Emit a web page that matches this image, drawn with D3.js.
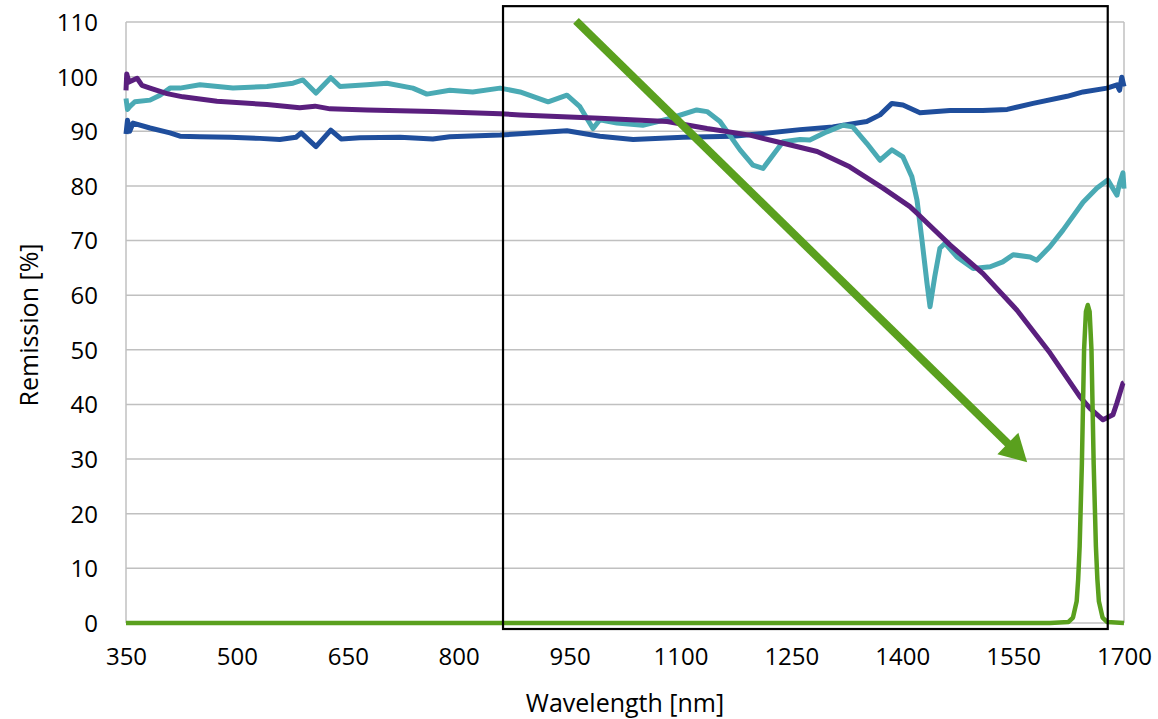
<!DOCTYPE html>
<html><head><meta charset="utf-8">
<script src="https://cdn.jsdelivr.net/npm/d3@7"></script>
<style>body{margin:0;background:#fff}svg{display:block}text{font-family:"Open Sans",sans-serif;fill:#000}</style>
</head><body><svg id="c" width="1158" height="719"></svg>
<script>
const xTicks = [350,500,650,800,950,1100,1250,1400,1550,1700];
const yTicks = [0,10,20,30,40,50,60,70,80,90,100,110];

const blueNm  = [350,352,355,359.5,382.5,409.5,423,450,490.7,531,558,580,587,607,627,641,666.5,720.6,765,788,856,946.5,991,1036,1103.5,1171,1211.7,1261.7,1306,1352,1370,1386,1401,1424,1464.6,1509,1542,1577,1623,1644.6,1677,1690.5,1694,1697,1700];
const blueVal = [89.5,92,90,91.5,90.6,89.7,89.1,89.0,88.9,88.7,88.5,88.9,89.7,87.2,90.2,88.6,88.8,88.9,88.6,89.0,89.3,90.1,89.1,88.5,88.9,89.1,89.6,90.3,90.8,91.8,93.0,95.1,94.8,93.4,93.8,93.8,94.0,95.1,96.4,97.2,97.9,98.5,97.5,99.9,98.2];

const cyanNm  = [350,352,355,362,382.5,396,409.5,423,450,494.7,540.7,576,589.4,607,627,639.5,676,703,738,757,788,819,856,883,921,946.5,964,981.7,991,1014,1049,1082,1122,1136,1153.5,1180.6,1198,1211.7,1230.6,1238.7,1261.7,1275,1298,1320,1333,1352,1370,1386,1401,1413,1420,1426.7,1433.5,1437.6,1444,1451,1458,1474,1496,1519,1536,1550,1573,1582,1600,1617.5,1644.6,1663.5,1678,1690.5,1694,1698.6,1700];
const cyanVal = [96,94,94.5,95.4,95.7,96.6,97.9,97.9,98.5,97.9,98.2,98.8,99.4,97.0,99.8,98.2,98.5,98.8,97.9,96.8,97.5,97.2,97.9,97.2,95.4,96.6,94.5,90.5,92.1,91.5,91.1,92.2,93.9,93.6,91.8,86.6,83.8,83.2,86.6,88.1,88.5,88.4,89.9,91.1,90.8,87.8,84.7,86.6,85.3,81.7,77.4,70.1,62.2,57.9,63.4,68.6,69.5,67.0,64.9,65.2,66.1,67.4,67.0,66.4,68.9,71.9,77.0,79.6,81.1,78.3,80.5,82.4,79.5];

const purpleNm  = [350,351,354,365,371.6,382.5,405.5,427,473,540.7,585,605.7,626,676,765,856,883,991,1082,1136,1194,1239,1285,1329,1374,1410.5,1420,1464.6,1509,1555,1600,1640.5,1654,1671.6,1685,1690.5,1698.6,1700];
const purpleVal = [97.5,100.5,99,99.7,98.4,97.9,96.9,96.3,95.5,94.9,94.3,94.6,94.1,93.9,93.6,93.2,93.0,92.4,91.8,90.5,89.3,87.8,86.3,83.5,79.6,76.2,75.0,69.2,64.0,57.3,49.4,41.4,39.3,37.2,38.1,40.3,43.9,44];

const greenNm  = [350,1600,1625,1631,1636,1638,1640,1643,1646,1648.5,1651,1653.5,1656,1659,1662,1664,1666,1671,1677,1700];
const greenVal = [0,0,0.2,1,4,8,14,29,50,57,58.2,57,50,29,14,8,4,1,0.2,0];

const arrowFrom = [958.7,110.2], arrowTo = [1569,29.4];
const boxX = [860,1678], boxY = [112.9,-1.1];

const W=1158,H=719, L=126,R=1124,T=22,B=623;
const svg=d3.select("#c");
const x=d3.scaleLinear().domain([350,1700]).range([L,R]);
const y=d3.scaleLinear().domain([0,110]).range([B,T]);

svg.append("g").selectAll("line").data(yTicks).join("line")
  .attr("x1",L).attr("x2",R).attr("y1",d=>y(d)).attr("y2",d=>y(d))
  .attr("stroke","#c0c0c0").attr("stroke-width",1.5);
svg.append("line").attr("x1",L).attr("x2",L).attr("y1",T).attr("y2",B).attr("stroke","#c0c0c0").attr("stroke-width",1.5);
svg.append("line").attr("x1",R).attr("x2",R).attr("y1",T).attr("y2",B).attr("stroke","#c0c0c0").attr("stroke-width",1.5);

const fs="24px";
const ya=svg.append("g").attr("transform",`translate(${L-28},0)`)
  .call(d3.axisLeft(y).tickValues(yTicks).tickFormat(d3.format("d")).tickSize(0).tickPadding(0));
ya.select(".domain").remove();
ya.selectAll("text").style("font-size",fs).style("font-family","'Open Sans',sans-serif").attr("fill","#000").attr("dy","0.35em");
const xa=svg.append("g").attr("transform",`translate(0,${B+25})`)
  .call(d3.axisBottom(x).tickValues(xTicks).tickFormat(d3.format("d")).tickSize(0).tickPadding(0));
xa.select(".domain").remove();
xa.selectAll("text").style("font-size",fs).style("font-family","'Open Sans',sans-serif").attr("fill","#000").attr("dy","0.71em");

svg.append("text").attr("x",(L+R)/2).attr("y",712).attr("text-anchor","middle").style("font-size","25px").text("Wavelength [nm]");
svg.append("text").attr("transform","translate(38,325) rotate(-90)").attr("text-anchor","middle").style("font-size","25px").text("Remission [%]");

const line=d3.line().x(d=>x(d[0])).y(d=>y(d[1]));
function series(nm,val,color,w){
  svg.append("path").datum(nm.map((n,i)=>[n,val[i]])).attr("d",line)
   .attr("fill","none").attr("stroke",color).attr("stroke-width",w).attr("stroke-linejoin","round");
}
series(blueNm,blueVal,"#1f4e9c",5);
series(cyanNm,cyanVal,"#4aaab4",5);
series(purpleNm,purpleVal,"#5a1f7e",5);
series(greenNm,greenVal,"#5aa01e",4.5);

svg.append("rect").attr("x",x(boxX[0])).attr("y",y(boxY[0]))
  .attr("width",x(boxX[1])-x(boxX[0])).attr("height",y(boxY[1])-y(boxY[0]))
  .attr("fill","none").attr("stroke","#000").attr("stroke-width",2.2);

const x0=x(arrowFrom[0]),y0=y(arrowFrom[1]),x1=x(arrowTo[0]),y1=y(arrowTo[1]);
const ang=Math.atan2(y1-y0,x1-x0), hl=27, hw=15;
const bx=x1-hl*Math.cos(ang), by=y1-hl*Math.sin(ang);
svg.append("line").attr("x1",x0).attr("y1",y0).attr("x2",bx+2*Math.cos(ang)).attr("y2",by+2*Math.sin(ang))
  .attr("stroke","#5aa01e").attr("stroke-width",8);
const px=-Math.sin(ang), py=Math.cos(ang);
svg.append("path").attr("d",`M${x1},${y1}L${bx+hw*px},${by+hw*py}L${bx-hw*px},${by-hw*py}Z`).attr("fill","#5aa01e");
</script></body></html>
